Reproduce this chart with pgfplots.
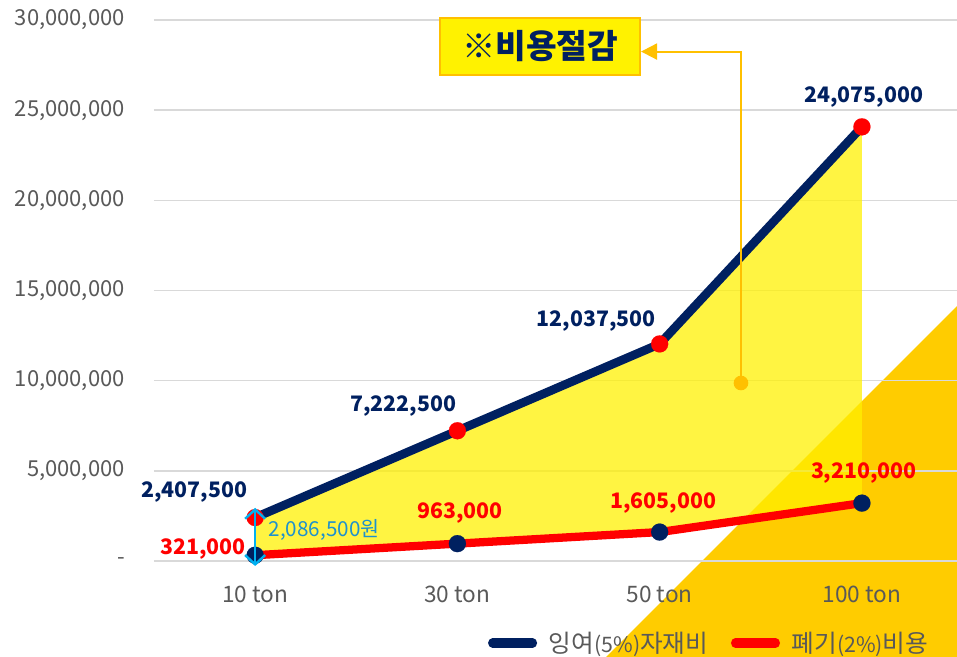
\documentclass[border=0pt]{standalone}
\usepackage{fontspec}
\setmainfont{Noto Sans CJK KR}
\usepackage{pgfplots}
\pgfplotsset{compat=1.18}
\usepackage{pgfplotstable}
\usepgfplotslibrary{fillbetween}
\usetikzlibrary{arrows.meta}

\definecolor{navy}{RGB}{0,32,96}
\definecolor{tickgray}{RGB}{89,89,89}
\definecolor{gridgray}{RGB}{217,217,217}
\definecolor{gold}{RGB}{255,204,0}
\definecolor{arrowgold}{RGB}{255,192,0}
\definecolor{fillyel}{RGB}{255,240,0}
\definecolor{diffblue}{RGB}{30,145,205}
\definecolor{arrowblue}{RGB}{0,176,240}

% surplus material cost (5%)
\pgfplotstableread{
x y
0 2407500
1 7222500
2 12037500
3 24075000
}\surplusdata
% disposal cost (2%)
\pgfplotstableread{
x y
0 321000
1 963000
2 1605000
3 3210000
}\disposaldata

\begin{document}
\begin{tikzpicture}
\begin{axis}[
  scale only axis, width=602.25pt, height=405.75pt,
  xmin=-0.5, xmax=3.47, ymin=0, ymax=30000000,
  clip=false, set layers,
  scaled y ticks=false,
  axis line style={draw=none},
  tick style={draw=none},
  xtick={0,1,2,3}, xticklabels={10 ton,30 ton,50 ton,100 ton},
  ytick={0,5000000,10000000,15000000,20000000,25000000,30000000},
  yticklabels={{-},{5,000,000},{10,000,000},{15,000,000},{20,000,000},{25,000,000},{30,000,000}},
  ymajorgrids, grid style={gridgray, line width=1.1pt},
  yticklabel style={font=\fontsize{16.5}{18}\selectfont, text=tickgray, anchor=east, inner sep=0pt, xshift=-21.75pt},
  xticklabel style={font=\fontsize{17}{19}\selectfont, text=tickgray, anchor=center, inner sep=0pt, yshift=-24.75pt},
  legend columns=2,
  legend style={at={(0.6918,-0.1516)}, anchor=center, draw=none, fill=none,
    font=\fontsize{18.5}{20}\selectfont, text=tickgray,
    /tikz/every even column/.append style={column sep=15pt}},
  legend image code/.code={\draw[#1, mark=none, line width=6.8pt, line cap=round] (0pt,0pt) -- (30pt,0pt); \path (37pt,0pt);},
]
\begin{pgfonlayer}{axis background}
\fill[gold] (axis cs:1.735,-5320000) -- (axis cs:3.47,14140000) -- (axis cs:3.47,-5320000) -- cycle;
\end{pgfonlayer}

\addplot[navy, line width=6.5pt, mark=*, mark size=6.4pt, mark options={draw=red, fill=red, line width=0.1pt}, name path=A] table[x=x,y=y] {\surplusdata};
\addlegendentry{잉여{\fontsize{16}{18}\selectfont(5\%)}자재비}
\addplot[red, line width=6.2pt, mark=*, mark size=6.4pt, mark options={draw=navy, fill=navy, line width=0.1pt}, name path=B] table[x=x,y=y] {\disposaldata};
\addlegendentry{폐기{\fontsize{16}{18}\selectfont(2\%)}비용}
\addplot[fillyel, fill opacity=0.74, draw=none, forget plot] fill between[of=A and B];

% data labels
\node[font=\bfseries\fontsize{16}{18}\selectfont, text=navy] at (axis cs:-0.302,3826000) {2,407,500};
\node[font=\bfseries\fontsize{16}{18}\selectfont, text=navy] at (axis cs:0.732,8595000) {7,222,500};
\node[font=\bfseries\fontsize{16}{18}\selectfont, text=navy] at (axis cs:1.686,13310000) {12,037,500};
\node[font=\bfseries\fontsize{16}{18}\selectfont, text=navy] at (axis cs:3.01,25730000) {24,075,000};
\node[font=\bfseries\fontsize{16}{18}\selectfont, text=red] at (axis cs:-0.257,665000) {321,000};
\node[font=\bfseries\fontsize{16}{18}\selectfont, text=red] at (axis cs:1.013,2660000) {963,000};
\node[font=\bfseries\fontsize{16}{18}\selectfont, text=red] at (axis cs:2.017,3220000) {1,605,000};
\node[font=\bfseries\fontsize{16}{18}\selectfont, text=red] at (axis cs:3.01,4880000) {3,210,000};

\begin{pgfonlayer}{axis foreground}
% difference arrow
\draw[arrowblue, line width=1.8pt, {Straight Barb[length=7pt,width=15pt]}-{Straight Barb[length=7pt,width=15pt]}] (axis cs:0,2950000) -- (axis cs:0,-280000);
\node[font=\fontsize{15.5}{17}\selectfont, text=diffblue] at (axis cs:0.341,1720000) {2,086,500원};
\end{pgfonlayer}

% callout
\draw[arrowgold, line width=1.5pt, -{Triangle[length=12pt,width=12pt]}] (axis cs:2.402,9870000) -- (axis cs:2.402,28250000) -- (axis cs:1.908,28250000);
\fill[arrowgold] (axis cs:2.402,9870000) circle[radius=5.5pt];
\node[draw=arrowgold, fill=yellow, line width=1.5pt, minimum width=150pt, minimum height=42.75pt, inner sep=0pt,
  font=\bfseries\fontsize{25}{27}\selectfont, text=navy] at (axis cs:1.409,28530000) {※비용절감};
\end{axis}
\pgfresetboundingbox
\useasboundingbox (-115.5pt,-72pt) rectangle (602.25pt,420.75pt);
\end{tikzpicture}
\end{document}
